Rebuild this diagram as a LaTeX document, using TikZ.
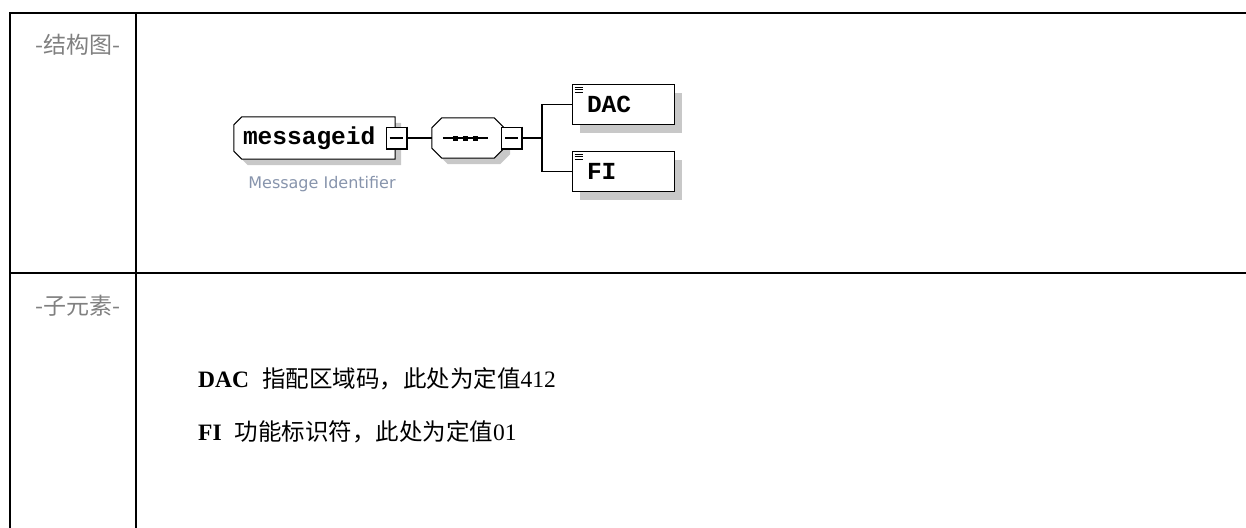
\documentclass[tikz,border=0pt]{standalone}
\usepackage{fontspec}
\setmainfont{Liberation Serif}
\newfontfamily\cjk{Noto Sans CJK SC}
\newfontfamily\xsdmono{Liberation Mono}
\newfontfamily\xsdsans{DejaVu Sans}
\usetikzlibrary{positioning,shadows}
\definecolor{labelgray}{RGB}{128,128,128}
\definecolor{docgray}{RGB}{135,148,172}
\definecolor{shadowgray}{RGB}{200,200,200}
\tikzset{
  tableline/.style={line width=2pt, line cap=rect},
  rowlabel/.style={font=\cjk\fontsize{23}{28}\selectfont, text=labelgray, inner sep=0pt},
  bodytext/.style={font=\fontsize{23.5}{28}\selectfont, inner sep=0pt},
  boxshadow/.style={drop shadow={shadow xshift=#1, shadow yshift=-#1, fill=shadowgray, opacity=1}},
  xsdbox/.style={draw, fill=white, line width=1pt, inner sep=0pt,
    font=\xsdmono\bfseries\fontsize{24.5}{26}\selectfont},
  xsdframe/.style={draw, fill=white, line width=1pt, boxshadow=6pt},
  toggle/.style={draw, fill=white, line width=1pt, minimum width=21pt, minimum height=22pt, inner sep=0pt},
  wire/.style={line width=1.2pt}
}

\begin{document}
\begin{tikzpicture}[x=1pt, y=-1pt]
  \useasboundingbox (0,0) rectangle (1246,527);

  % table frame
  \draw[tableline] (10,527) -- (10,13) -- (1246,13);
  \draw[tableline] (136,13) -- (136,527);
  \draw[tableline] (10,273) -- (1246,273);

  \node[rowlabel] (structlbl) at (78,45) {-结构图-};
  \node[rowlabel] (childlbl) at (78,306) {-子元素-};

  % schema diagram
  \node[inner sep=0pt, minimum width=161pt, minimum height=42pt] (msg) at (314.5,138) {};
  \draw[xsdframe] ([xshift=8pt]msg.north west) -- (msg.north east) -- (msg.south east)
    -- ([xshift=8pt]msg.south west) -- ([yshift=8pt]msg.south west) -- ([yshift=-8pt]msg.north west) -- cycle;
  \node[font=\xsdmono\bfseries\fontsize{24.5}{26}\selectfont, inner sep=0pt] (msgname) at (msg) {\makebox[143pt][l]{messageid}};
  \node[font=\xsdsans\fontsize{16}{18}\selectfont, text=docgray, inner sep=0pt] (msgdoc) at (322,184) {Message Identifier};
  \node[toggle] (msgtog) at (396.5,138) {};

  \node[inner sep=0pt, minimum width=72pt, minimum height=40pt] (seq) at (468,138) {};
  \draw[xsdframe] ([xshift=10pt]seq.north west) -- ([xshift=-10pt]seq.north east) -- ([yshift=-10pt]seq.north east)
    -- ([yshift=10pt]seq.south east) -- ([xshift=-10pt]seq.south east) -- ([xshift=10pt]seq.south west)
    -- ([yshift=10pt]seq.south west) -- ([yshift=-10pt]seq.north west) -- cycle;
  \node[toggle] (seqtog) at (512,138) {};

  \node[xsdbox, boxshadow=8pt, minimum width=102pt, minimum height=40pt] (dac) at (623,104.5) {\makebox[72pt][l]{DAC}};
  \node[xsdbox, boxshadow=8pt, minimum width=102pt, minimum height=40pt] (fi) at (623,171.5) {\makebox[72pt][l]{FI}};
  \coordinate (fork) at (542,138);

  % sequence symbol
  \draw[wire] ([xshift=11pt]seq.west) -- ([xshift=-16pt]seq.east);
  \foreach \x in {455,465,475}
    \fill (\x-2.5,135.5) rectangle ++(5,5);

  % expand toggles
  \foreach \t in {msgtog,seqtog} {
    \draw[line width=1.2pt] ([xshift=4pt]\t.west) -- ([xshift=-5pt]\t.east);
    \draw[line width=2pt] ([xshift=-1pt]\t.north east) -- ([xshift=-1pt,yshift=1pt]\t.south east) -- ([yshift=1pt]\t.south west);
  }

  % element icons
  \foreach \b in {dac,fi}
    \foreach \d in {3,5.5,8}
      \draw[line width=0.9pt] ([shift={(3pt,-\d pt)}]\b.north west) -- ++(8pt,0pt);

  \draw[wire] (msgtog) -- (seq);
  \draw[wire] (seqtog) -- (fork);
  \draw[wire] (fork) |- (dac);
  \draw[wire] (fork) |- (fi);

  % child elements
  \node[bodytext, anchor=base west] (dacdesc) at (198,387) {\textbf{DAC}\hspace{0.55em}{\cjk 指配区域码，此处为定值}412};
  \node[bodytext, anchor=base west] (fidesc) at (198,440) {\textbf{FI}\hspace{0.55em}{\cjk 功能标识符，此处为定值}01};
\end{tikzpicture}
\end{document}
